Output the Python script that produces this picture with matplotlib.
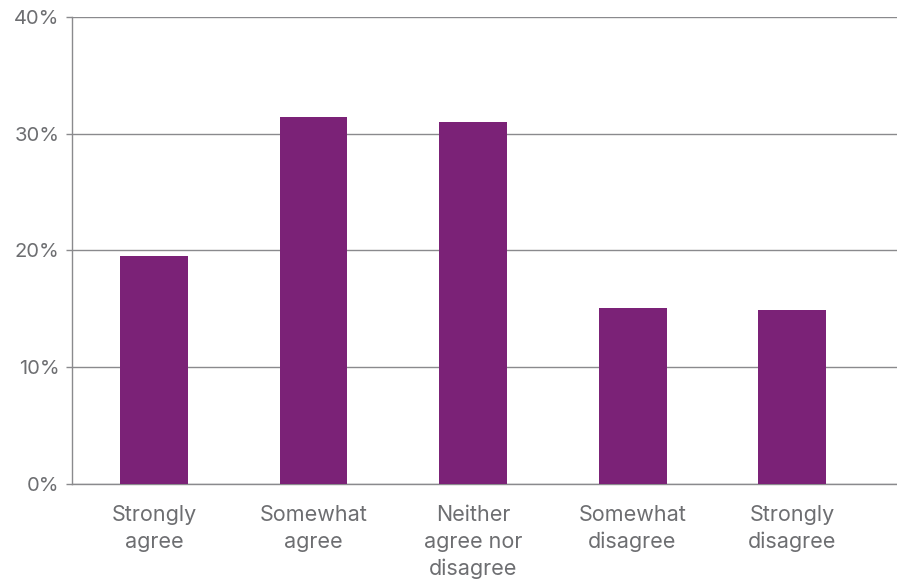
import matplotlib
matplotlib.use("Agg")
import matplotlib.pyplot as plt
from matplotlib.ticker import FuncFormatter

# Data
categories = ["Strongly\nagree", "Somewhat\nagree", "Neither\nagree nor\ndisagree",
              "Somewhat\ndisagree", "Strongly\ndisagree"]
values = [19.5, 31.4, 31.0, 15.1, 14.9]
y_ticks = [0, 10, 20, 30, 40]

BAR_COLOR = "#7b2277"
TEXT_COLOR = "#6d6e71"
LINE_COLOR = "#8a8a8d"

plt.rcParams["font.family"] = ["Inter", "DejaVu Sans"]

fig = plt.figure(figsize=(8.97, 5.82), dpi=100)
ax = fig.add_axes([0.0803, 0.1684, 0.9197, 0.8024])

x = range(len(categories))
ax.bar(x, values, width=0.426, color=BAR_COLOR, zorder=3)

ax.set_xlim(-0.514, 4.658)
ax.set_ylim(0, 40)
ax.set_yticks(y_ticks)
ax.yaxis.set_major_formatter(FuncFormatter(lambda v, p: f"{v:.0f}%"))
ax.grid(axis="y", color=LINE_COLOR, linewidth=1.0, zorder=0)

ax.set_xticks(list(x))
ax.set_xticklabels(categories, linespacing=1.42)

for side in ["top", "right"]:
    ax.spines[side].set_visible(False)
for side in ["left", "bottom"]:
    ax.spines[side].set_color(LINE_COLOR)
    ax.spines[side].set_linewidth(1.0)

ax.tick_params(axis="x", length=0, pad=15, labelsize=15.5, labelcolor=TEXT_COLOR)
ax.tick_params(axis="y", length=4, width=1.0, color=LINE_COLOR, pad=5,
               labelsize=14.5, labelcolor=TEXT_COLOR)

fig.savefig("out.png", dpi=100)
